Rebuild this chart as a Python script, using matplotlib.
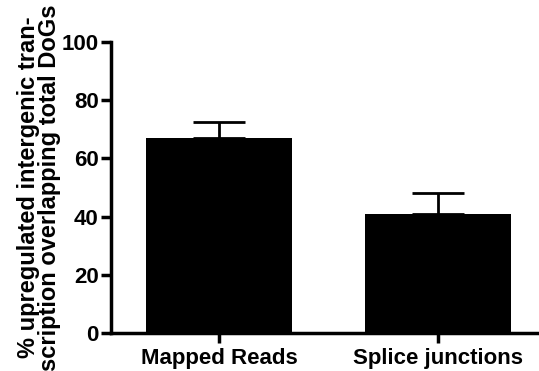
import matplotlib
matplotlib.use("Agg")
import matplotlib.pyplot as plt
import numpy as np

plt.rcParams['font.family'] = ['Liberation Sans', 'DejaVu Sans']
plt.rcParams['font.weight'] = 'bold'

categories = ["Mapped Reads", "Splice junctions"]
means = [67.1, 40.8]
errors = [5.2, 7.4]
yticks = [0, 20, 40, 60, 80, 100]

fig = plt.figure(figsize=(5.39, 3.71), dpi=100)
ax = fig.add_axes([0.206, 0.1024, 0.792, 0.785])

x = np.arange(len(categories))
ax.bar(x, means, width=0.667, color='black', linewidth=0, zorder=2)
ax.errorbar(x, means, yerr=[np.zeros(len(errors)), errors], fmt='none',
            ecolor='black', elinewidth=2, capsize=19, capthick=2, zorder=1)

ax.set_xlim(-0.493, 1.457)
ax.set_ylim(0, 100)
ax.set_yticks(yticks)
ax.set_xticks(x)
ax.set_xticklabels(categories)

for s in ['top', 'right']:
    ax.spines[s].set_visible(False)
for s in ['left', 'bottom']:
    ax.spines[s].set_linewidth(2.5)

ax.tick_params(axis='both', width=2.5, length=7, labelsize=16, pad=2)
ax.tick_params(axis='x', pad=4)
for lab in ax.get_xticklabels() + ax.get_yticklabels():
    lab.set_fontweight('bold')

ax.set_ylabel("% upregulated intergenic tran-\nscription overlapping total DoGs",
              fontsize=17, fontweight='bold', linespacing=0.9, labelpad=0)

plt.savefig("out.png", dpi=100)
